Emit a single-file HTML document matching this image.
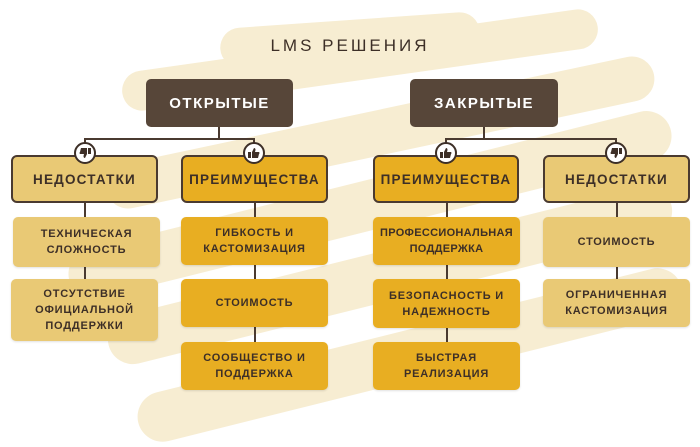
<!DOCTYPE html>
<html><head><meta charset="utf-8"><style>
body{margin:0;width:700px;height:440px;background:#fff;position:relative;overflow:hidden;font-family:"Liberation Sans","DejaVu Sans",sans-serif;}
.s{position:absolute;background:#f7edd2;border-radius:40px;}
.b{position:absolute;display:flex;align-items:center;justify-content:center;text-align:center;font-weight:bold;color:#3d2f27;box-sizing:border-box;letter-spacing:0.8px;}
.top{background:#574639;color:#fff;border-radius:5px;font-size:15px;letter-spacing:1.5px;}
.l2{border:2px solid #4a3a30;border-radius:6px;font-size:13.5px;letter-spacing:1.2px;}
.l3{border-radius:5px;font-size:11px;line-height:16px;box-shadow:0 1px 2px rgba(0,0,0,0.12);}
.lt{background:#e9c975}.dk{background:#e8ae22}
.ln{position:absolute;background:#4a3a30;}
.ic{position:absolute;width:22px;height:22px;border-radius:50%;background:#fff;border:2px solid #3d2f27;box-sizing:border-box;display:flex;align-items:center;justify-content:center;}
</style></head><body>
<div class="s" style="left:120px;top:40px;width:480px;height:40px;transform:rotate(-8deg)"></div>
<div class="s" style="left:100px;top:110px;width:560px;height:45px;transform:rotate(-12deg)"></div>
<div class="s" style="left:60px;top:180px;width:620px;height:50px;transform:rotate(-14deg)"></div>
<div class="s" style="left:100px;top:250px;width:580px;height:50px;transform:rotate(-14deg)"></div>
<div class="s" style="left:130px;top:330px;width:560px;height:50px;transform:rotate(-14deg)"></div>
<div class="s" style="left:220px;top:20px;width:260px;height:40px;transform:rotate(-4deg)"></div>
<div style="position:absolute;left:0;top:36px;width:700px;text-align:center;font-size:17px;letter-spacing:3px;color:#3d2f27;">LMS РЕШЕНИЯ</div>

<div class="ln" style="left:218px;top:127px;width:2px;height:13px"></div>
<div class="ln" style="left:84px;top:138px;width:170px;height:2px"></div>
<div class="ln" style="left:84px;top:138px;width:2px;height:17px"></div>
<div class="ln" style="left:253px;top:138px;width:2px;height:17px"></div>
<div class="ln" style="left:483px;top:127px;width:2px;height:13px"></div>
<div class="ln" style="left:445px;top:138px;width:171px;height:2px"></div>
<div class="ln" style="left:445px;top:138px;width:2px;height:17px"></div>
<div class="ln" style="left:615px;top:138px;width:2px;height:17px"></div>

<div class="ln" style="left:84px;top:202px;width:2px;height:77px"></div>
<div class="ln" style="left:254px;top:202px;width:2px;height:140px"></div>
<div class="ln" style="left:446px;top:202px;width:2px;height:140px"></div>
<div class="ln" style="left:616px;top:202px;width:2px;height:77px"></div>

<div class="b top" style="left:146px;top:79px;width:147px;height:48px">ОТКРЫТЫЕ</div>
<div class="b top" style="left:410px;top:79px;width:148px;height:48px">ЗАКРЫТЫЕ</div>

<div class="b l2 lt" style="left:11px;top:155px;width:147px;height:48px">НЕДОСТАТКИ</div>
<div class="b l2 dk" style="left:181px;top:155px;width:147px;height:48px">ПРЕИМУЩЕСТВА</div>
<div class="b l2 dk" style="left:373px;top:155px;width:146px;height:48px">ПРЕИМУЩЕСТВА</div>
<div class="b l2 lt" style="left:543px;top:155px;width:147px;height:48px">НЕДОСТАТКИ</div>

<div class="ic" style="left:74px;top:142px"><svg width="12" height="12" viewBox="0 0 12 12" style="transform:rotate(180deg)"><rect x="0" y="5" width="3" height="6" fill="#3d2f27"/><path d="M4 5 L6 1 Q7.5 1 7.5 3 L7 5 L11 5 Q12 6 11 7 L10 11 L4 11Z" fill="#3d2f27"/></svg></div>
<div class="ic" style="left:243px;top:142px"><svg width="12" height="12" viewBox="0 0 12 12"><rect x="0" y="5" width="3" height="6" fill="#3d2f27"/><path d="M4 5 L6 1 Q7.5 1 7.5 3 L7 5 L11 5 Q12 6 11 7 L10 11 L4 11Z" fill="#3d2f27"/></svg></div>
<div class="ic" style="left:435px;top:142px"><svg width="12" height="12" viewBox="0 0 12 12"><rect x="0" y="5" width="3" height="6" fill="#3d2f27"/><path d="M4 5 L6 1 Q7.5 1 7.5 3 L7 5 L11 5 Q12 6 11 7 L10 11 L4 11Z" fill="#3d2f27"/></svg></div>
<div class="ic" style="left:605px;top:142px"><svg width="12" height="12" viewBox="0 0 12 12" style="transform:rotate(180deg)"><rect x="0" y="5" width="3" height="6" fill="#3d2f27"/><path d="M4 5 L6 1 Q7.5 1 7.5 3 L7 5 L11 5 Q12 6 11 7 L10 11 L4 11Z" fill="#3d2f27"/></svg></div>

<div class="b l3 lt" style="left:13px;top:217px;width:147px;height:50px">ТЕХНИЧЕСКАЯ<br>СЛОЖНОСТЬ</div>
<div class="b l3 lt" style="left:11px;top:279px;width:147px;height:62px">ОТСУТСТВИЕ<br>ОФИЦИАЛЬНОЙ<br>ПОДДЕРЖКИ</div>
<div class="b l3 dk" style="left:181px;top:217px;width:147px;height:48px">ГИБКОСТЬ И<br>КАСТОМИЗАЦИЯ</div>
<div class="b l3 dk" style="left:181px;top:279px;width:147px;height:48px">СТОИМОСТЬ</div>
<div class="b l3 dk" style="left:181px;top:342px;width:147px;height:48px">СООБЩЕСТВО И<br>ПОДДЕРЖКА</div>
<div class="b l3 dk" style="left:373px;top:217px;width:147px;height:48px;letter-spacing:0.3px">ПРОФЕССИОНАЛЬНАЯ<br>ПОДДЕРЖКА</div>
<div class="b l3 dk" style="left:373px;top:279px;width:147px;height:49px">БЕЗОПАСНОСТЬ И<br>НАДЕЖНОСТЬ</div>
<div class="b l3 dk" style="left:373px;top:342px;width:147px;height:48px">БЫСТРАЯ<br>РЕАЛИЗАЦИЯ</div>
<div class="b l3 lt" style="left:543px;top:217px;width:147px;height:50px">СТОИМОСТЬ</div>
<div class="b l3 lt" style="left:543px;top:279px;width:147px;height:48px">ОГРАНИЧЕННАЯ<br>КАСТОМИЗАЦИЯ</div>
</body></html>
